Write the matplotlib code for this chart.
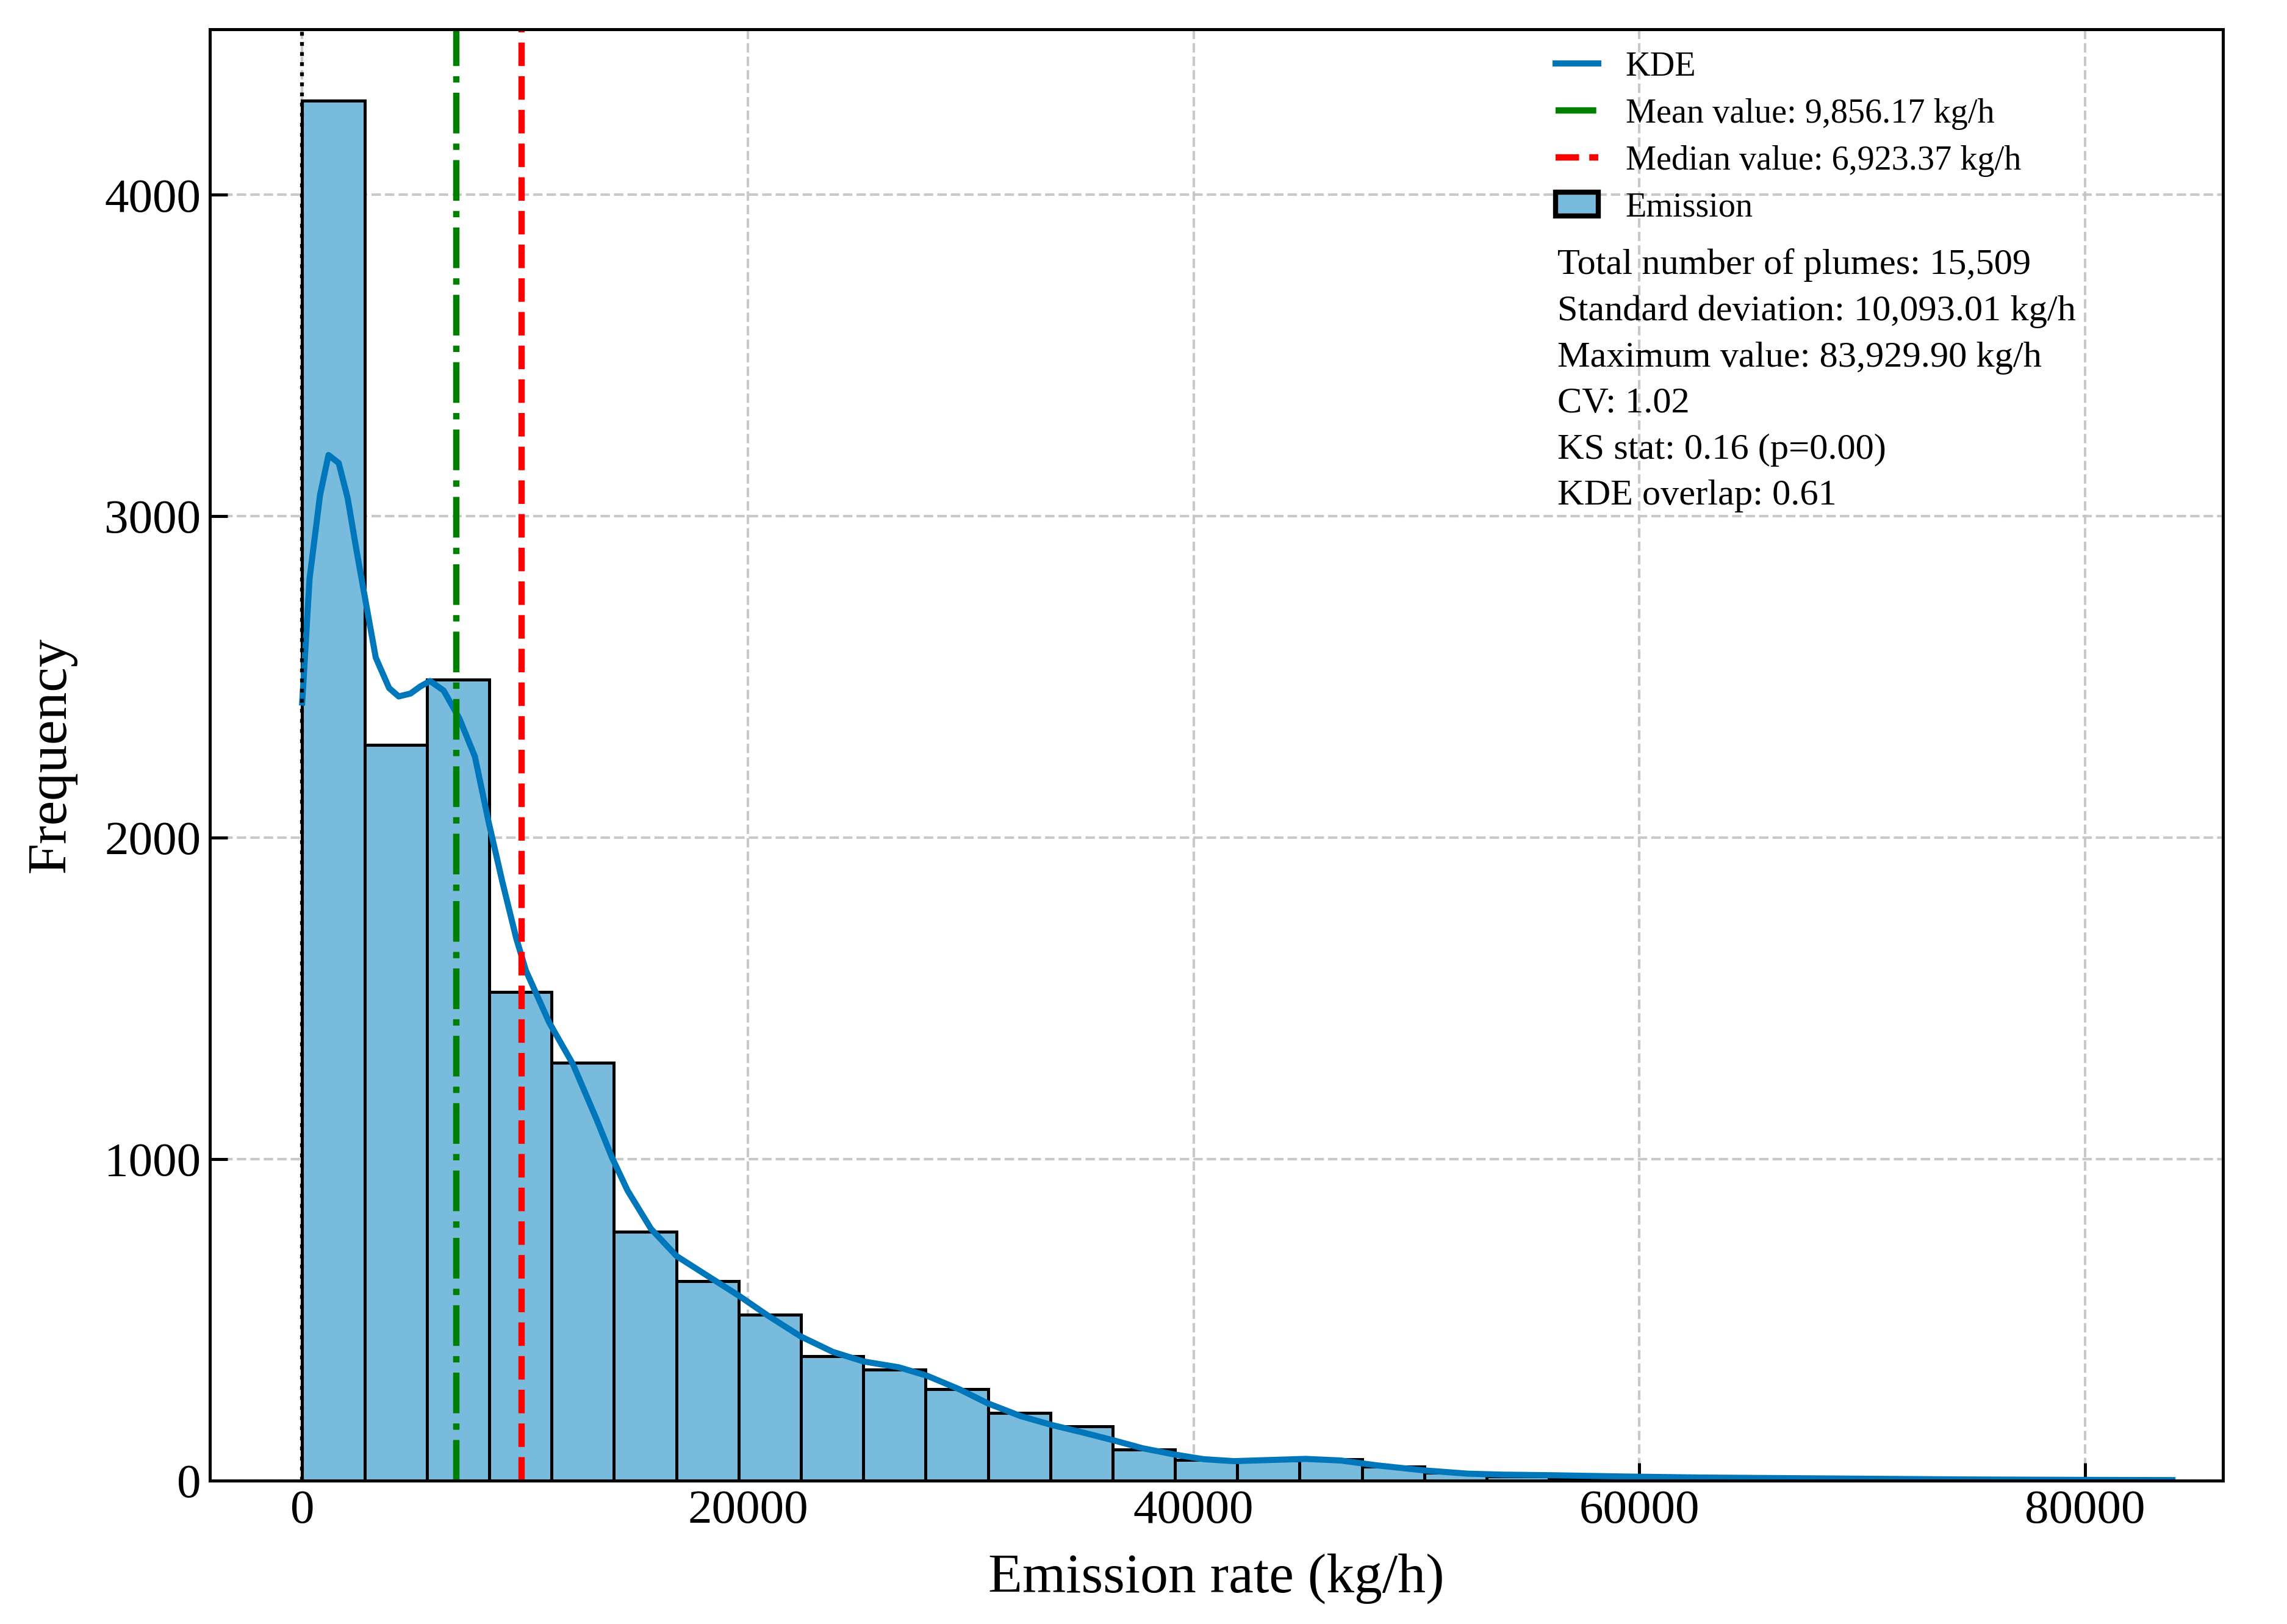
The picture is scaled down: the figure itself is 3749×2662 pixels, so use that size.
import numpy as np
import matplotlib.pyplot as plt

plt.rcParams['font.family'] = ['Liberation Serif', 'DejaVu Serif']

# 30 bins of equal width from 0 to the maximum emission rate
max_value = 83929.90
n_bins = 30
bin_counts = [4292, 2288, 2492, 1520, 1300, 773, 620, 515, 386, 345,
              284, 210, 168, 96, 63, 62, 66, 43, 24, 13,
              9, 6, 4, 3, 2, 2, 1, 1, 0, 1]

# KDE curve (scaled to counts)
kde_x = [0, 330, 800, 1180, 1640, 2040, 2430, 2900, 3300, 3900, 4330, 4860,
         5300, 5740, 6350, 7050, 7750, 8370, 8990, 9600, 10040, 11090, 12150,
         13200, 13900, 14600, 15650, 16800, 18110, 19590, 20850, 22370, 23810,
         25200, 26770, 28030, 29510, 30760, 32250, 33610, 34980, 36400, 37720,
         39200, 40460, 41820, 43190, 45020, 46610, 48210, 50380, 52310, 53870,
         56180, 59470, 62760, 66710, 70660, 74610, 78550, 83930]
kde_y = [2420, 2805, 3065, 3190, 3165, 3056, 2896, 2714, 2560, 2465, 2439, 2448,
         2470, 2487, 2457, 2371, 2252, 2047, 1860, 1688, 1586, 1424, 1295,
         1125, 1005, 902, 783, 698, 640, 575, 515, 448, 400,
         370, 352, 326, 283, 240, 200, 173, 150, 125, 100,
         80, 66, 60, 63, 67, 62, 47, 31, 21, 18,
         16, 12, 9, 7, 5, 3, 2, 1]

# vertical reference lines (positions and labels as shown in the figure)
green_x = 6923.37
red_x = 9856.17
green_label = 'Mean value: 9,856.17 kg/h'
red_label = 'Median value: 6,923.37 kg/h'

stats_lines = ['Total number of plumes: 15,509',
               'Standard deviation: 10,093.01 kg/h',
               'Maximum value: 83,929.90 kg/h',
               'CV: 1.02',
               'KS stat: 0.16 (p=0.00)',
               'KDE overlap: 0.61']

bin_edges = np.linspace(0, max_value, n_bins + 1)

fig = plt.figure(figsize=(12.497, 8.874), dpi=300)
ax = fig.add_axes([0.0917, 0.0884, 0.8803, 0.8936])

bars = ax.hist(bin_edges[:-1], bins=bin_edges, weights=bin_counts,
               color='#79BBDD', edgecolor='black', linewidth=1.2,
               label='Emission')
kde_line, = ax.plot(kde_x, kde_y, color='#0077BB', linewidth=2.4, label='KDE')
green_line = ax.axvline(green_x, color='green', linestyle='-.', linewidth=2.5,
                        label=green_label)
red_line = ax.axvline(red_x, color='red', linestyle='--', linewidth=2.5,
                      label=red_label)
ax.axvline(0, color='black', linestyle=':', linewidth=1.5, zorder=3)

ax.set_xlim(-4150, 86200)
ax.set_ylim(0, 4515)
ax.set_xticks([0, 20000, 40000, 60000, 80000])
ax.set_yticks([0, 1000, 2000, 3000, 4000])
ax.grid(True, linestyle='--', color='#C4C4C4', linewidth=1.0, alpha=0.9)
ax.set_axisbelow(True)
ax.tick_params(direction='in', length=7, width=1.2, labelsize=19)
for spine in ax.spines.values():
    spine.set_linewidth(1.2)

ax.set_xlabel('Emission rate (kg/h)', fontsize=22, labelpad=8)
ax.set_ylabel('Frequency', fontsize=22, labelpad=11)

handles = [kde_line, green_line, red_line, bars[2][0]]
labels = ['KDE', green_label, red_label, 'Emission']
leg = ax.legend(handles, labels, loc='upper left', bbox_to_anchor=(0.653, 1.006),
                frameon=False, fontsize=13.5, handlelength=1.25,
                labelspacing=0.44)
for patch in leg.get_patches():
    patch.set_linewidth(2.0)

ax.text(0.6695, 0.849, '\n'.join(stats_lines), transform=ax.transAxes,
        ha='left', va='top', fontsize=14.5, linespacing=1.52)

fig.savefig('out.png', dpi=300)
